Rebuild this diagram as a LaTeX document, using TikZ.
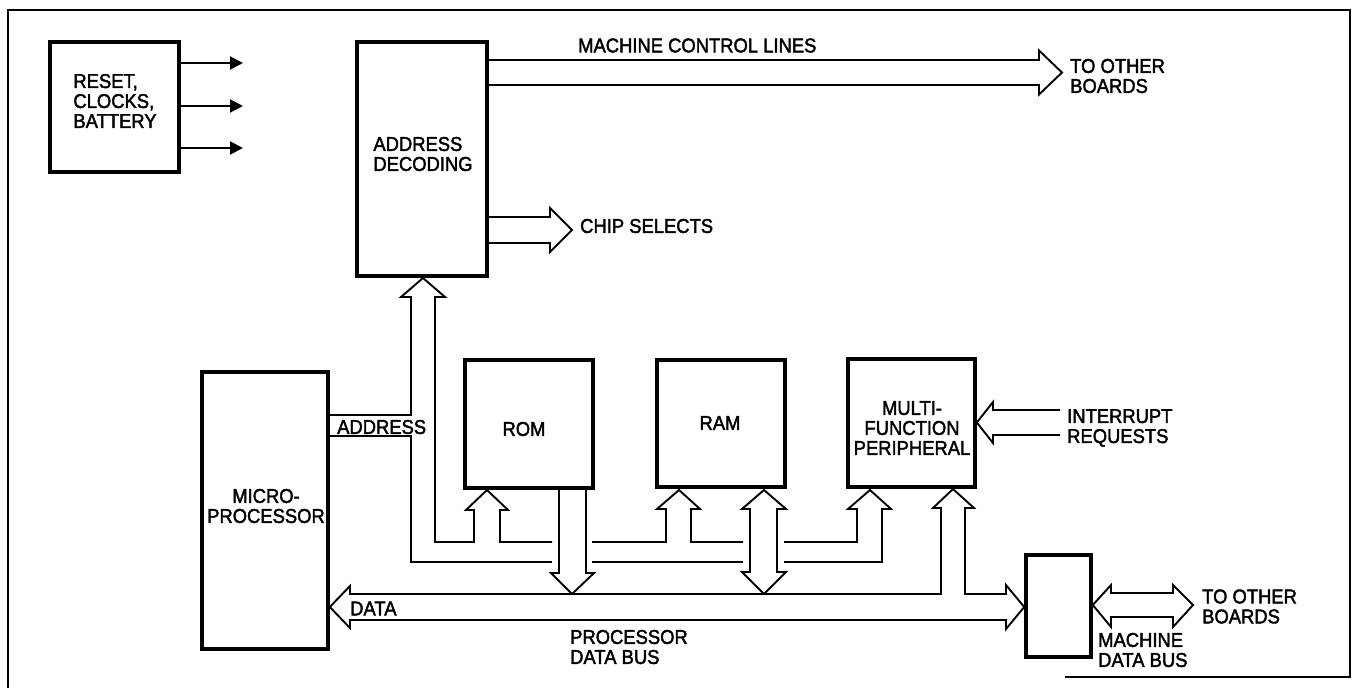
\documentclass[tikz,border=0pt]{standalone}
\usepackage{fontspec}
\setmainfont{Liberation Sans}[FakeBold=2,FakeStretch=0.92]
\usetikzlibrary{arrows.meta}
\newcommand{\dgfont}{\fontsize{20}{20}\selectfont}
\begin{document}
\begin{tikzpicture}[x=1pt,y=-1pt,
  box/.style={draw, line width=3.6pt, inner sep=0pt},
  bus/.style={draw, line width=1.9pt, line join=miter, miter limit=10},
  sig/.style={line width=2pt, -{Triangle[length=13pt,width=13pt]}},
  txt/.style={inner sep=0pt, align=left, font=\dgfont},
  ctxt/.style={inner sep=0pt, align=center, font=\dgfont}]
\useasboundingbox (0,0) rectangle (1355,688);
% frame
\draw[line width=1.8pt] (1065,677) -- (1350,677) -- (1350,10) -- (8,10) -- (8,688);
% boxes
\node[box, minimum width=129pt, minimum height=130pt] (reset) at (114.5,107) {};
\node[box, minimum width=130pt, minimum height=234pt] (addr) at (422,159) {};
\node[box, minimum width=126pt, minimum height=277pt] (micro) at (265,510.5) {};
\node[box, minimum width=128pt, minimum height=128pt] (rom) at (529,424) {};
\node[box, minimum width=128pt, minimum height=127pt] (ram) at (721,423.5) {};
\node[box, minimum width=127pt, minimum height=128pt] (mfp) at (911.5,423) {};
\node[box, minimum width=65pt, minimum height=102pt] (mdb) at (1058.5,606) {};
% box texts
\node[txt] (resetT) at (115,101) {RESET,\\CLOCKS,\\BATTERY};
\node[txt] (addrT) at (423,154) {ADDRESS\\DECODING};
\node[ctxt] (microT) at (266,506) {MICRO-\\PROCESSOR};
\node[ctxt] (romT) at (524,429) {ROM};
\node[ctxt] (ramT) at (720,423) {RAM};
\node[ctxt] (mfpT) at (912,428) {MULTI-\\FUNCTION\\PERIPHERAL};
% reset signals
\coordinate (r1) at (243,63);
\coordinate (r2) at (243,106);
\coordinate (r3) at (243,148);
\draw[sig] (reset.east |- r1) -- (r1);
\draw[sig] (reset.east |- r2) -- (r2);
\draw[sig] (reset.east |- r3) -- (r3);
% machine control lines
\draw[bus] (addr.east |- 0,60) -- (1039,60) -- (1039,50.5) -- (1062,72.5) -- (1039,94.5) -- (1039,85) -- (addr.east |- 0,85);
\node[txt, anchor=west] (mcl) at (578,45.5) {MACHINE CONTROL LINES};
\node[txt, anchor=west] (tob1) at (1070,76) {TO OTHER\\BOARDS};
% chip selects
\draw[bus] (addr.east |- 0,217) -- (550,217) -- (550,208) -- (572,230) -- (550,252) -- (550,243) -- (addr.east |- 0,243);
\node[txt, anchor=west] (cs) at (580,226) {CHIP SELECTS};
% address bus
\draw[bus] (micro.east |- 0,415) -- (411,415) -- (411,297) -- (401,297) -- (423,278) -- (445,297) -- (435,297) -- (435,542)
  -- (474,542) -- (474,510) -- (466,510) -- (487,490) -- (508,510) -- (500,510) -- (500,542) -- (552,542);
\draw[bus] (592,542) -- (666,542) -- (666,509) -- (657,509) -- (679,490) -- (700,509) -- (691,509) -- (691,542) -- (743,542);
\draw[bus] (784,542) -- (857,542) -- (857,509) -- (848,509) -- (870,490) -- (891,509) -- (882,509) -- (882,562) -- (784,562);
\draw[bus] (743,562) -- (592,562);
\draw[bus] (552,562) -- (411,562) -- (411,436) -- (micro.east |- 0,436);
\node[txt, anchor=west] (addrL) at (337,427) {ADDRESS};
% ROM data
\draw[bus] (559,490) -- (559,573) -- (551,573) -- (572,594) -- (594,573) -- (586,573) -- (586,490);
% RAM data
\draw[bus] (750,509) -- (742,509) -- (764,490) -- (786,509) -- (777,509) -- (777,572) -- (786,572) -- (764,594) -- (742,572) -- (750,572) -- cycle;
% processor data bus
\draw[bus] (350,586) -- (micro.east |- 0,607) -- (350,628) -- (350,620) -- (1006,620) -- (1006,629) -- (mdb.west |- 0,607) -- (1006,585) -- (1006,594)
  -- (965,594) -- (965,508) -- (974,508) -- (953,489) -- (933,508) -- (941,508) -- (941,594) -- (350,594) -- cycle;
\node[txt, anchor=west] (dataL) at (350,608.5) {DATA};
\node[txt, anchor=west] (pdb) at (570,647) {PROCESSOR\\DATA BUS};
% interrupt requests
\draw[bus] (1060,410) -- (993,410) -- (993,402) -- (mfp.east |- 0,422.5) -- (993,443) -- (993,435) -- (1060,435);
\node[txt, anchor=west] (irq) at (1067,428) {INTERRUPT\\REQUESTS};
% machine data bus
\draw[bus] (1111,593) -- (1173,593) -- (1173,585) -- (1193,605) -- (1173,627) -- (1173,617) -- (1111,617) -- (1111,627) -- (mdb.east |- 0,605) -- (1111,585) -- cycle;
\node[txt, anchor=west] (tob2) at (1202,606.5) {TO OTHER\\BOARDS};
\node[txt, anchor=west] (mdbL) at (1098,650) {MACHINE\\DATA BUS};
\end{tikzpicture}
\end{document}
